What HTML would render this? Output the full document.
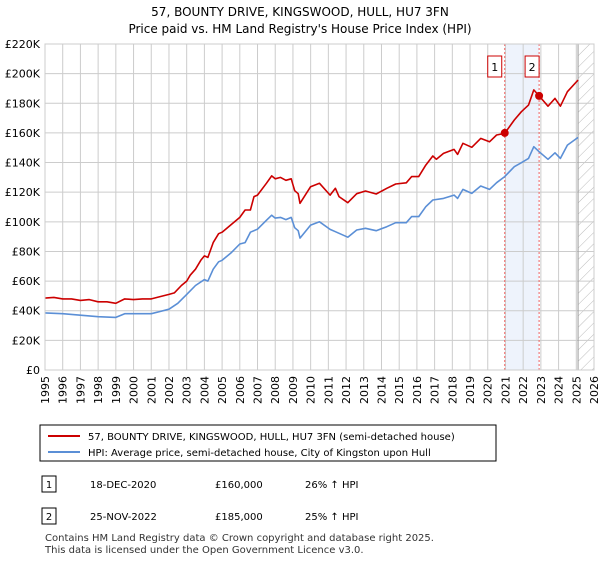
<!DOCTYPE html>
<html><head><meta charset="utf-8"><style>
body{margin:0;background:#fff;font-family:"Liberation Sans","DejaVu Sans",sans-serif;}
svg text{font-family:"DejaVu Sans","Liberation Sans",sans-serif;}
</style></head><body>
<svg id="c" width="600" height="560" xmlns="http://www.w3.org/2000/svg">
<defs><pattern id="h" width="8" height="8" patternUnits="userSpaceOnUse" patternTransform="rotate(45)"><line x1="0" y1="0" x2="0" y2="8" stroke="#bbb" stroke-width="1"/></pattern></defs>
<text x="300" y="16" text-anchor="middle" font-size="12">57, BOUNTY DRIVE, KINGSWOOD, HULL, HU7 3FN</text>
<text x="300" y="33" text-anchor="middle" font-size="12">Price paid vs. HM Land Registry's House Price Index (HPI)</text>
<g id="plot"></g>
<g>
<rect x="40" y="425" width="456" height="36" fill="#fff" stroke="#000" stroke-width="1"/>
<line x1="48" y1="436" x2="80" y2="436" stroke="#cc0000" stroke-width="2"/>
<text x="88" y="440" font-size="10">57, BOUNTY DRIVE, KINGSWOOD, HULL, HU7 3FN (semi-detached house)</text>
<line x1="48" y1="452" x2="80" y2="452" stroke="#5b8fd6" stroke-width="2"/>
<text x="88" y="456" font-size="10">HPI: Average price, semi-detached house, City of Kingston upon Hull</text>
</g>
<g font-size="10">
<rect x="42" y="476" width="14" height="16" fill="#fff" stroke="#000"/><text x="49" y="488" text-anchor="middle">1</text>
<text x="90" y="488">18-DEC-2020</text><text x="215" y="488">£160,000</text><text x="305" y="488">26% ↑ HPI</text>
<rect x="42" y="508" width="14" height="16" fill="#fff" stroke="#000"/><text x="49" y="520" text-anchor="middle">2</text>
<text x="90" y="520">25-NOV-2022</text><text x="215" y="520">£185,000</text><text x="305" y="520">25% ↑ HPI</text>
</g>
<text x="45" y="541" font-size="10" fill="#333">Contains HM Land Registry data © Crown copyright and database right 2025.</text>
<text x="45" y="553" font-size="10" fill="#333">This data is licensed under the Open Government Licence v3.0.</text>
</svg>
<script>
const yTicks=[0,20,40,60,80,100,120,140,160,180,200,220];
const xYears=[1995,1996,1997,1998,1999,2000,2001,2002,2003,2004,2005,2006,2007,2008,2009,2010,2011,2012,2013,2014,2015,2016,2017,2018,2019,2020,2021,2022,2023,2024,2025,2026];
const redT=[1995,1995.5,1996,1996.5,1997,1997.5,1998,1998.5,1999,1999.5,2000,2000.5,2001,2001.5,2002,2002.3,2002.7,2003,2003.2,2003.5,2003.8,2004,2004.2,2004.5,2004.8,2005,2005.5,2006,2006.3,2006.6,2006.8,2007,2007.5,2007.8,2008,2008.3,2008.6,2008.9,2009.1,2009.3,2009.4,2010,2010.5,2011.1,2011.4,2011.6,2012.1,2012.6,2013.1,2013.7,2014.3,2014.8,2015.4,2015.7,2016.1,2016.5,2016.9,2017.1,2017.5,2018.1,2018.3,2018.6,2019.1,2019.6,2020.1,2020.5,2020.96,2021.5,2021.9,2022.3,2022.6,2022.9,2023.4,2023.8,2024.1,2024.5,2025.1];
const redV=[48.5,49,48,48,47,47.5,46,46,45,48,47.5,48,48,49.5,51,52,57,60,64,68,74,77,76,86,92,93,98,103,108,108,117,118,126,131,129,130,128,129,121,119,112.5,123.7,126,118,122.6,117,112.9,119,120.8,118.8,122.6,125.5,126.3,130.5,130.5,138.3,144.4,142.2,146.2,148.9,145.5,153,150.3,156.3,154,158.6,159.7,168.7,174.3,178.8,189,185,178,183.3,178,187.8,195.7];
const blueT=[1995,1996,1997,1998,1999,1999.5,2000,2001,2001.5,2002,2002.5,2003,2003.5,2004,2004.2,2004.5,2004.8,2005,2005.5,2006,2006.3,2006.6,2007,2007.5,2007.8,2008,2008.3,2008.6,2008.9,2009.1,2009.3,2009.4,2010,2010.5,2011.1,2011.4,2012.1,2012.6,2013.1,2013.7,2014.3,2014.8,2015.4,2015.7,2016.1,2016.5,2016.9,2017.5,2018.1,2018.3,2018.6,2019.1,2019.6,2020.1,2020.5,2020.96,2021.5,2021.9,2022.3,2022.6,2022.9,2023.4,2023.8,2024.1,2024.5,2025.1];
const blueV=[38.5,38,37,36,35.5,38,38,38,39.5,41,45,51,57,61,60,68,73,74,79,85,86,93,95,101,104.5,102.5,103,101.5,103,96,94,89,97.8,100,94.9,93.3,89.6,94.5,95.6,94,96.7,99.4,99.4,103.5,103.5,110.2,114.7,115.8,118,115.8,121.9,119.2,124.2,121.9,126.4,130.5,137.2,139.9,142.8,150.7,147.3,142.2,146.6,142.8,151.8,157];
const saleT=[2020.96,2022.9];
const saleV=[160,185];
const saleLabels=["1","2"];
const dataEnd=2025.1;
const X0=45,X1=594,Y0=370,Y1=44;
const sx=t=>X0+(t-1995)/31*(X1-X0);
const sy=v=>Y0-v/220*(Y0-Y1);
const NS="http://www.w3.org/2000/svg";
const g=document.getElementById('plot');
function mk(tag,at){const e=document.createElementNS(NS,tag);for(const k in at)e.setAttribute(k,at[k]);g.appendChild(e);return e;}
let e=mk('rect',{x:sx(saleT[0]),y:Y1,width:sx(saleT[1])-sx(saleT[0]),height:Y0-Y1,fill:'#eef3fc'});


e=mk('rect',{x:sx(dataEnd),y:Y1,width:X1-sx(dataEnd),height:Y0-Y1,fill:'url(#h)'});


xYears.forEach(y=>{e=mk('line',{x1:sx(y),x2:sx(y),y1:Y1,y2:Y0,stroke:'#ccc','stroke-width':1});


e=mk('text',{transform:`translate(${sx(y)+4},${Y0+6}) rotate(-90)`,'text-anchor':'end','font-size':11});e.textContent=y;

});
yTicks.forEach(v=>{e=mk('line',{x1:X0,x2:X1,y1:sy(v),y2:sy(v),stroke:'#ccc','stroke-width':1});


e=mk('text',{x:X0-5,y:sy(v)+4,'text-anchor':'end','font-size':11});e.textContent=v===0?'£0':'£'+v+'K';

});
e=mk('line',{x1:sx(dataEnd),x2:sx(dataEnd),y1:Y1,y2:Y0,stroke:'#999','stroke-width':1});


saleT.forEach((t,i)=>{e=mk('line',{x1:sx(t),x2:sx(t),y1:Y1,y2:Y0,stroke:'#f06060','stroke-width':1,'stroke-dasharray':'2,2'});


e=mk('rect',{x:sx(t)-14+(i?0:-3),y:56,width:14,height:21,fill:'#fff',stroke:'#cc0000'});


e=mk('text',{x:sx(t)-7+(i?0:-3),y:71,'text-anchor':'middle','font-size':11});e.textContent=saleLabels[i];

});
function line(T,V,c,name){const d=T.map((t,i)=>(i?'L':'M')+sx(t).toFixed(1)+','+sy(V[i]).toFixed(1)).join('');
const p=mk('path',{d:d,fill:'none',stroke:c,'stroke-width':1.6,'stroke-linejoin':'round'});

}
line(blueT,blueV,'#5b8fd6','hpi-line');
line(redT,redV,'#cc0000','price-line');
saleT.forEach((t,i)=>{e=mk('circle',{cx:sx(t),cy:sy(saleV[i]),r:4,fill:'#cc0000'});

});
e=mk('rect',{x:X0,y:Y1,width:X1-X0,height:Y0-Y1,fill:'none',stroke:'#ccc'});


</script>
</body></html>
